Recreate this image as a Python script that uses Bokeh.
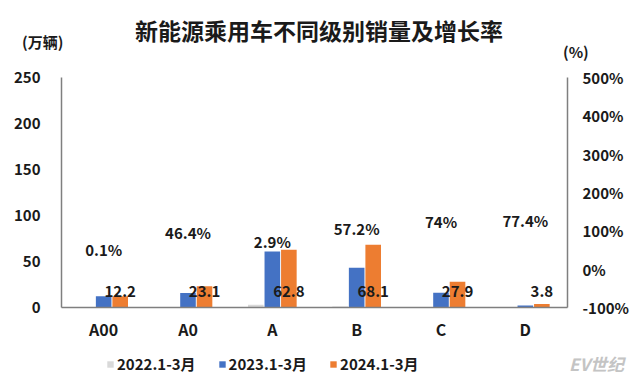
from bokeh.plotting import figure
from bokeh.layouts import column, row
from bokeh.models import (ColumnDataSource, Range1d, LinearAxis, Legend, LegendItem,
                          PrintfTickFormatter, Div)
from bokeh.transform import dodge
from bokeh.embed import file_html
from bokeh.resources import INLINE

# ---- data ----
categories = ["A00", "A0", "A", "B", "C", "D"]
sales_2022 = [0.3, 0.3, 3.0, 1.2, 0.3, 0.2]
sales_2023 = [12.2, 15.8, 61.0, 43.3, 16.0, 2.1]
sales_2024 = [12.2, 23.1, 62.8, 68.1, 27.9, 3.8]
growth_pct = [0.1, 46.4, 2.9, 57.2, 74.0, 77.4]
growth_text = ["0.1%", "46.4%", "2.9%", "57.2%", "74%", "77.4%"]
left_ticks = [0, 50, 100, 150, 200, 250]
right_ticks = [-100, 0, 100, 200, 300, 400, 500]
series_names = ["2022.1-3月", "2023.1-3月", "2024.1-3月"]
colors = ["#d9d9d9", "#4472c4", "#ed7d31"]
title_text = "新能源乘用车不同级别销量及增长率"
left_unit = "(万辆)"
right_unit = "(%)"
brand_text = "EV世纪"

FONT = "Noto Sans CJK SC"
AXIS_COLOR = "#7f7f7f"
TEXT_COLOR = "#1a1a1a"

LEFT_MAX = left_ticks[-1]
R_MIN, R_MAX = right_ticks[0], right_ticks[-1]


def bar_in_pct(v):
    return R_MIN + v * (R_MAX - R_MIN) / LEFT_MAX


# growth label anchor: above growth point, but kept clear of the taller bar
label_y = [max(g + 50, bar_in_pct(max(a, b)) + 22)
           for g, a, b in zip(growth_pct, sales_2023, sales_2024)]

source = ColumnDataSource(dict(
    cat=categories, y2022=sales_2022, y2023=sales_2023, y2024=sales_2024,
    val_text=[f"{v:g}" for v in sales_2024],
    zero=[0] * len(categories),
    g_text=growth_text, g_y=label_y,
))

W = 640
FRAME_L, FRAME_R = 61, 73
HDR_H = 64

# ---------- header: title + unit labels ----------
base = f"position:absolute;font-family:'{FONT}';font-weight:bold;color:{TEXT_COLOR};white-space:nowrap;"
header_html = (
    f'<div style="position:relative;width:{W}px;height:{HDR_H}px;margin:0;padding:0;">'
    f'<div style="{base}left:0px;width:638px;top:16px;text-align:center;'
    f'font-size:23px;line-height:28px;">{title_text}</div>'
    f'<div style="{base}left:22px;top:34px;font-size:15px;line-height:16px;">{left_unit}</div>'
    f'<div style="{base}left:563px;top:44px;font-size:15px;line-height:16px;">{right_unit}</div>'
    '</div>'
)
hdr = Div(text=header_html, width=W, height=HDR_H, margin=0)

# ---------- main chart ----------
p = figure(x_range=categories, y_range=Range1d(0, LEFT_MAX), title=None,
           width=W, height=281, output_backend="svg", toolbar_location=None,
           min_border_left=FRAME_L, min_border_right=FRAME_R, min_border_top=13,
           min_border_bottom=38)
p.extra_y_ranges = {"pct": Range1d(R_MIN, R_MAX)}
p.outline_line_color = None
p.xgrid.grid_line_color = None
p.ygrid.grid_line_color = None
p.x_range.range_padding = 0

w = 0.185
off = 0.196
p.vbar(x=dodge("cat", -off, range=p.x_range), top="y2022", width=w,
       source=source, color=colors[0], line_color=None)
p.vbar(x=dodge("cat", 0, range=p.x_range), top="y2023", width=w,
       source=source, color=colors[1], line_color=None)
p.vbar(x=dodge("cat", off, range=p.x_range), top="y2024", width=w,
       source=source, color=colors[2], line_color=None)

# value labels for 2024
p.text(x=dodge("cat", off, range=p.x_range), y="zero", text="val_text", source=source,
       y_offset=-16, text_align="center", text_baseline="middle",
       text_font={"value": FONT}, text_font_size="15px", text_font_style="bold",
       text_color=TEXT_COLOR)

# growth-rate labels (right axis)
p.text(x="cat", y="g_y", text="g_text", source=source, y_range_name="pct",
       text_align="center", text_baseline="middle",
       text_font={"value": FONT}, text_font_size="15px", text_font_style="bold",
       text_color=TEXT_COLOR)


def style_axis(ax, standoff, size="15px"):
    ax.axis_line_color = AXIS_COLOR
    ax.axis_line_width = 1.5
    ax.major_tick_line_color = None
    ax.minor_tick_line_color = None
    ax.major_tick_out = 0
    ax.major_tick_in = 0
    ax.major_label_text_font = FONT
    ax.major_label_text_font_size = size
    ax.major_label_text_font_style = "bold"
    ax.major_label_text_color = TEXT_COLOR
    ax.major_label_standoff = standoff


p.yaxis.ticker = left_ticks
style_axis(p.yaxis[0], 21)

ra = LinearAxis(y_range_name="pct", ticker=right_ticks,
                formatter=PrintfTickFormatter(format="%d%%"))
style_axis(ra, 15)
p.add_layout(ra, "right")

style_axis(p.xaxis[0], 9, "16px")

# ---------- legend strip ----------
leg = figure(width=W - FRAME_R, height=39, title=None, x_axis_type=None, y_axis_type=None,
             x_range=Range1d(0, 1), y_range=Range1d(0, 1),
             min_border_left=FRAME_L, min_border_right=0, min_border_top=0,
             min_border_bottom=0, toolbar_location=None, output_backend="svg")
leg.outline_line_color = None
idx = list(range(len(categories)))
leg_renderers = [leg.vbar(x=idx, top=vals, width=0.5, color=c, line_color=None,
                          visible=False)
                 for c, vals in zip(colors, [sales_2022, sales_2023, sales_2024])]
legend = Legend(items=[LegendItem(label=n, renderers=[r]) for n, r in
                       zip(series_names, leg_renderers)],
                orientation="horizontal", location=(45, 10),
                label_text_font=FONT, label_text_font_size="15px",
                label_text_font_style="bold", label_text_color=TEXT_COLOR,
                glyph_width=8, glyph_height=8, label_standoff=3, spacing=22,
                border_line_color=None, background_fill_alpha=0,
                padding=0, margin=0, inactive_fill_alpha=0)
leg.add_layout(legend, "center")

brand_html = (
    f'<div style="position:relative;width:{FRAME_R}px;height:39px;margin:0;padding:0;">'
    f'<div style="position:absolute;left:2px;top:9px;font-family:\'{FONT}\';'
    f'font-weight:bold;font-style:italic;font-size:17px;line-height:20px;'
    f'color:#c4c4c4;white-space:nowrap;">{brand_text}</div></div>'
)
brand = Div(text=brand_html, width=FRAME_R, height=39, margin=0)

layout = column(hdr, p, row(leg, brand, spacing=0), spacing=0)
open("out.html", "w").write(file_html(layout, INLINE))
